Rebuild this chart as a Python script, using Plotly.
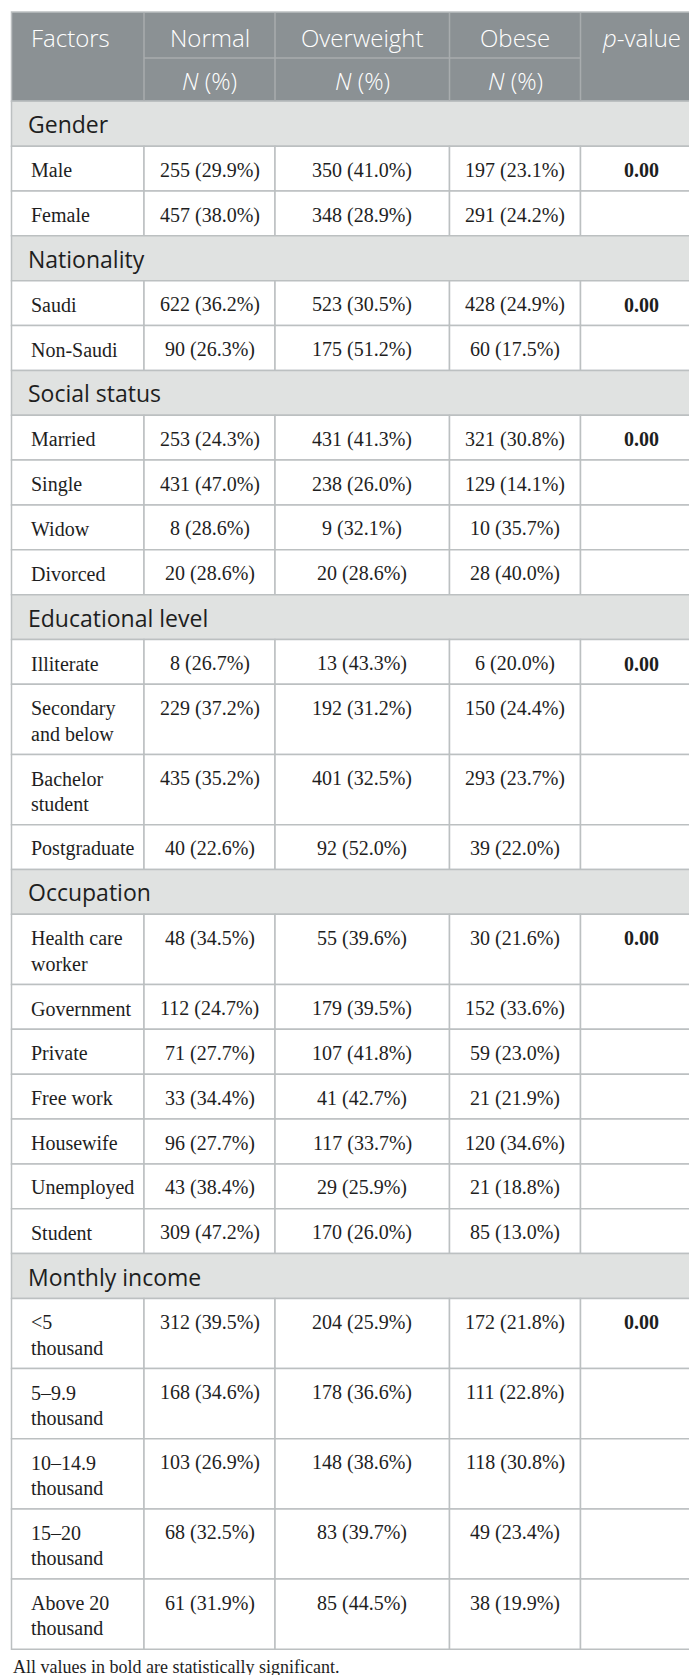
import plotly.graph_objects as go

# ---- data -------------------------------------------------------------
header_top = ["Factors", "Normal", "Overweight", "Obese", "<i>p</i>-value"]
header_sub = ["", "<i>N</i> (%)", "<i>N</i> (%)", "<i>N</i> (%)", ""]

section_names = ["Gender", "Nationality", "Social status",
                 "Educational level", "Occupation", "Monthly income"]
section_sizes = [2, 2, 4, 4, 7, 5]
section_pvalues = ["0.00", "0.00", "0.00", "0.00", "0.00", "0.00"]

factors = ["Male", "Female",
           "Saudi", "Non-Saudi",
           "Married", "Single", "Widow", "Divorced",
           "Illiterate", "Secondary<br>and below", "Bachelor<br>student", "Postgraduate",
           "Health care<br>worker", "Government", "Private", "Free work",
           "Housewife", "Unemployed", "Student",
           "&lt;5<br>thousand", "5–9.9<br>thousand", "10–14.9<br>thousand",
           "15–20<br>thousand", "Above 20<br>thousand"]

normal = ["255 (29.9%)", "457 (38.0%)",
          "622 (36.2%)", "90 (26.3%)",
          "253 (24.3%)", "431 (47.0%)", "8 (28.6%)", "20 (28.6%)",
          "8 (26.7%)", "229 (37.2%)", "435 (35.2%)", "40 (22.6%)",
          "48 (34.5%)", "112 (24.7%)", "71 (27.7%)", "33 (34.4%)",
          "96 (27.7%)", "43 (38.4%)", "309 (47.2%)",
          "312 (39.5%)", "168 (34.6%)", "103 (26.9%)", "68 (32.5%)", "61 (31.9%)"]

overweight = ["350 (41.0%)", "348 (28.9%)",
              "523 (30.5%)", "175 (51.2%)",
              "431 (41.3%)", "238 (26.0%)", "9 (32.1%)", "20 (28.6%)",
              "13 (43.3%)", "192 (31.2%)", "401 (32.5%)", "92 (52.0%)",
              "55 (39.6%)", "179 (39.5%)", "107 (41.8%)", "41 (42.7%)",
              "117 (33.7%)", "29 (25.9%)", "170 (26.0%)",
              "204 (25.9%)", "178 (36.6%)", "148 (38.6%)", "83 (39.7%)", "85 (44.5%)"]

obese = ["197 (23.1%)", "291 (24.2%)",
         "428 (24.9%)", "60 (17.5%)",
         "321 (30.8%)", "129 (14.1%)", "10 (35.7%)", "28 (40.0%)",
         "6 (20.0%)", "150 (24.4%)", "293 (23.7%)", "39 (22.0%)",
         "30 (21.6%)", "152 (33.6%)", "59 (23.0%)", "21 (21.9%)",
         "120 (34.6%)", "21 (18.8%)", "85 (13.0%)",
         "172 (21.8%)", "111 (22.8%)", "118 (30.8%)", "49 (23.4%)", "38 (19.9%)"]

footnote = "All values in bold are statistically significant."

# ---- layout constants ---------------------------------------------------
W, H = 697, 1675
col_x = [3.5, 136, 267, 441.5, 572.5, 694.5]
head_y = [4, 50, 93.3]
row_h = 44.85
line_h = 25.3
text_dy = 24

HEAD_FILL = "rgb(139,145,148)"
HEAD_LINE = "rgb(168,172,174)"
SEC_FILL = "rgb(224,226,225)"
GRID = "rgb(188,192,193)"
TXT = "rgb(30,30,30)"
SANS = "Open Sans, sans-serif"
SERIF = "Liberation Serif, DejaVu Serif, serif"

shapes = []
annots = []


def rect(x0, y0, x1, y1, fill, line=GRID, w=1.5):
    shapes.append(dict(type="rect", xref="x", yref="y", x0=x0, y0=y0, x1=x1, y1=y1,
                       fillcolor=fill, line=dict(color=line, width=w), layer="below"))


def text(x, y, s, font, anchor="center"):
    annots.append(dict(x=x, y=y, xref="x", yref="y", text=s, showarrow=False,
                       xanchor=anchor, yanchor="middle", font=font))


# header block
rect(col_x[0], head_y[0], col_x[-1], head_y[2], HEAD_FILL)
for cx in col_x[1:-1]:
    shapes.append(dict(type="line", xref="x", yref="y", x0=cx, x1=cx,
                       y0=head_y[0] + 1, y1=head_y[2] - 1,
                       line=dict(color=HEAD_LINE, width=1.5)))
shapes.append(dict(type="line", xref="x", yref="y", x0=col_x[1], x1=col_x[4],
                   y0=head_y[1], y1=head_y[1], line=dict(color=HEAD_LINE, width=1.5)))

head_font = dict(family=SANS, size=24, color="white", weight=300)
for i, s in enumerate(header_top):
    if i == 0:
        text(col_x[0] + 17, (head_y[0] + head_y[1]) / 2 + 2, s, head_font, "left")
    else:
        text((col_x[i] + col_x[i + 1]) / 2, (head_y[0] + head_y[1]) / 2 + 2, s, head_font)
for i, s in enumerate(header_sub):
    if s:
        text((col_x[i] + col_x[i + 1]) / 2, (head_y[1] + head_y[2]) / 2 + 1, s, head_font)

# body
val_font = dict(family=SERIF, size=20, color=TXT)
p_font = dict(family=SERIF, size=20, color=TXT, weight="bold")
sec_font = dict(family=SANS, size=23, color=TXT)

y = head_y[2]
k = 0
for name, n, pv in zip(section_names, section_sizes, section_pvalues):
    rect(col_x[0], y, col_x[-1], y + row_h, SEC_FILL)
    text(col_x[0] + 14, y + row_h / 2 + 0.5, name, sec_font, "left")
    y += row_h
    for j in range(n):
        lines = factors[k].split("<br>")
        h = row_h + (len(lines) - 1) * line_h
        for c in range(5):
            rect(col_x[c], y, col_x[c + 1], y + h, "white")
        for li, ln in enumerate(lines):
            text(col_x[0] + 17.5, y + text_dy + li * line_h, ln, val_font, "left")
        for c, vals in enumerate([normal, overweight, obese], start=1):
            text((col_x[c] + col_x[c + 1]) / 2, y + text_dy, vals[k], val_font)
        if j == 0:
            text((col_x[4] + col_x[5]) / 2, y + text_dy, pv, p_font)
        y += h
        k += 1

text(col_x[0] - 0.5, y + 18, footnote, dict(family=SERIF, size=18, color=TXT), "left")

fig = go.Figure()
fig.update_layout(
    width=W, height=H,
    margin=dict(l=0, r=0, t=0, b=0, pad=0),
    plot_bgcolor="white", paper_bgcolor="white",
    shapes=shapes, annotations=annots,
    showlegend=False,
)
fig.update_xaxes(range=[0, W], visible=False, fixedrange=True)
fig.update_yaxes(range=[H, 0], visible=False, fixedrange=True)

fig.write_html("out.html")
